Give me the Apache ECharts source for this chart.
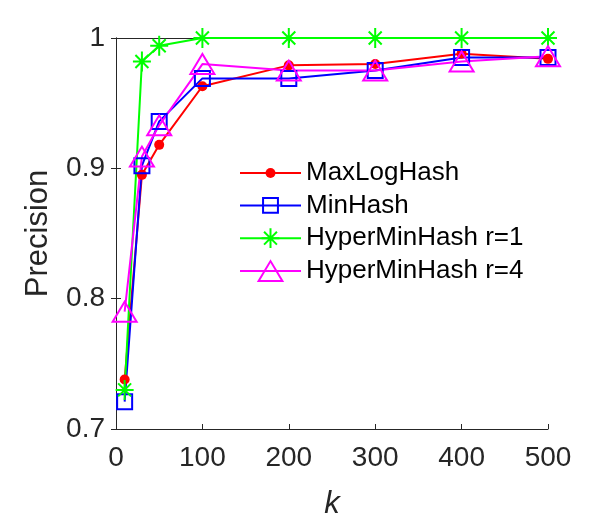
<!DOCTYPE html>
<html>
<head>
<meta charset="utf-8">
<script src="https://cdn.jsdelivr.net/npm/echarts@6/dist/echarts.min.js"></script>
<style>
  html, body { margin: 0; padding: 0; background: #fff; }
  #main { width: 607px; height: 525px; }
</style>
</head>
<body>
<div id="main"></div>
<script>
// data
var kValues = [10, 30, 50, 100, 200, 300, 400, 500];
var maxLogHash = [0.738, 0.895, 0.918, 0.963, 0.979, 0.980, 0.988, 0.984];
var minHash = [0.721, 0.902, 0.936, 0.969, 0.969, 0.975, 0.985, 0.985];
var hyperR1 = [0.730, 0.982, 0.994, 1.000, 1.000, 1.000, 1.000, 1.000];
var hyperR4 = [0.790, 0.909, 0.933, 0.980, 0.975, 0.975, 0.982, 0.986];
var seriesNames = ['MaxLogHash', 'MinHash', 'HyperMinHash r=1', 'HyperMinHash r=4'];
var xTicks = [0, 100, 200, 300, 400, 500];
var yTicks = [0.7, 0.8, 0.9, 1];

var axisColor = '#262626';
var font = 'Liberation Sans, Arial, Helvetica, sans-serif';

// marker shapes drawn inside a 25x25 box (the leading M points fix the box)
var box = 'path://M0,0M25,25';
var dotSym = box + 'M17.5,12.5A5,5,0,1,1,7.5,12.5A5,5,0,1,1,17.5,12.5Z';
var squareSym = box + 'M5,5L20,5L20,20L5,20Z';
var starSym = box + 'M12.5,2.5L12.5,22.5M3.5,12.5L21.5,12.5M6,6L19,19M19,6L6,19';
var triSym = box + 'M0.5,22.5L12.5,2.5L24.5,22.5Z';

function pairs(ys) {
    return kValues.map(function (k, i) { return [k, ys[i]]; });
}

function makeSeries(name, ys, color, symbol, filled) {
    return {
        name: name,
        type: 'line',
        data: pairs(ys),
        clip: false,
        symbol: symbol,
        symbolSize: 25,
        lineStyle: { color: color, width: 2 },
        itemStyle: filled
            ? { color: color, borderWidth: 0 }
            : { color: 'rgba(0,0,0,0)', borderColor: color, borderWidth: 2 },
        emphasis: { disabled: true }
    };
}

var chart = echarts.init(document.getElementById('main'));

var option = {
    animation: false,
    grid: { left: 116, right: 59, top: 38, bottom: 92 },
    legend: {
        orient: 'vertical',
        left: 239,
        top: 160,
        padding: 0,
        itemWidth: 61,
        itemHeight: 31,
        itemGap: 6,
        textStyle: { fontFamily: font, fontSize: 26, color: '#000' },
        data: [
            { name: seriesNames[0], itemStyle: { color: '#ff0000', borderWidth: 0 } },
            { name: seriesNames[1], itemStyle: { color: 'rgba(0,0,0,0)', borderColor: '#0000ff', borderWidth: 2 } },
            { name: seriesNames[2], itemStyle: { color: 'rgba(0,0,0,0)', borderColor: '#00ff00', borderWidth: 2 } },
            { name: seriesNames[3], itemStyle: { color: 'rgba(0,0,0,0)', borderColor: '#ff00ff', borderWidth: 2 } }
        ]
    },
    xAxis: [{
        type: 'value',
        min: xTicks[0],
        max: xTicks[xTicks.length - 1],
        interval: xTicks[1] - xTicks[0],
        name: 'k',
        nameLocation: 'middle',
        nameGap: 60,
        nameTextStyle: { fontFamily: font, fontSize: 31, fontStyle: 'italic', color: axisColor },
        axisLine: { show: true, lineStyle: { color: axisColor, width: 1 } },
        axisTick: { show: true, inside: true, length: 5, lineStyle: { color: axisColor } },
        axisLabel: { fontFamily: font, fontSize: 28, color: axisColor, margin: 15 },
        splitLine: { show: false }
    }, {
        type: 'value',
        position: 'top',
        min: xTicks[0],
        max: xTicks[xTicks.length - 1],
        interval: xTicks[1] - xTicks[0],
        axisLine: { show: true, lineStyle: { color: axisColor, width: 1 } },
        axisTick: { show: true, inside: true, length: 5, lineStyle: { color: axisColor } },
        axisLabel: { show: false },
        splitLine: { show: false }
    }],
    yAxis: [{
        type: 'value',
        min: yTicks[0],
        max: yTicks[yTicks.length - 1],
        interval: 0.1,
        name: 'Precision',
        nameLocation: 'middle',
        nameGap: 62,
        nameTextStyle: { fontFamily: font, fontSize: 31, color: axisColor },
        axisLine: { show: true, lineStyle: { color: axisColor, width: 1 } },
        axisTick: { show: true, inside: true, length: 5, lineStyle: { color: axisColor } },
        axisLabel: { fontFamily: font, fontSize: 28, color: axisColor, margin: 11 },
        splitLine: { show: false }
    }, {
        type: 'value',
        position: 'right',
        min: yTicks[0],
        max: yTicks[yTicks.length - 1],
        interval: 0.1,
        axisLine: { show: true, lineStyle: { color: axisColor, width: 1 } },
        axisTick: { show: true, inside: true, length: 5, lineStyle: { color: axisColor } },
        axisLabel: { show: false },
        splitLine: { show: false }
    }],
    series: [
        makeSeries(seriesNames[0], maxLogHash, '#ff0000', dotSym, true),
        makeSeries(seriesNames[1], minHash, '#0000ff', squareSym, false),
        makeSeries(seriesNames[2], hyperR1, '#00ff00', starSym, false),
        makeSeries(seriesNames[3], hyperR4, '#ff00ff', triSym, false)
    ]
};

chart.setOption(option);
</script>
</body>
</html>
